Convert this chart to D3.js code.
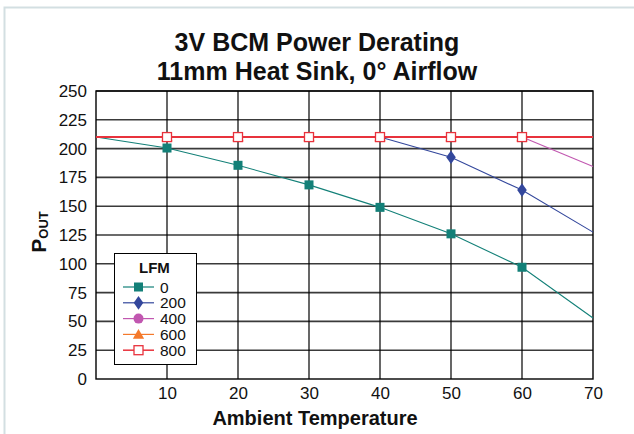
<!DOCTYPE html>
<html><head><meta charset="utf-8">
<script src="https://cdn.jsdelivr.net/npm/d3@7"></script>
<style>body{margin:0;background:#fff;}svg{display:block;font-family:"Liberation Sans",Arial,sans-serif;}</style>
</head><body>
<svg id="c" width="634" height="434"></svg>
<script>
const titleLines = ["3V BCM Power Derating", "11mm Heat Sink, 0° Airflow"];
const xTicks = [10, 20, 30, 40, 50, 60, 70];
const yTicks = [0, 25, 50, 75, 100, 125, 150, 175, 200, 225, 250];
const seriesNames = ["0", "200", "400", "600", "800"];
const seriesColors = ["#138078", "#33479c", "#c157b0", "#f4792b", "#e8323c"];
const lfm0X = [0, 10, 20, 30, 40, 50, 60, 70];
const lfm0Y = [210, 200.5, 185.5, 168.5, 149, 126, 97, 53];
const lfm200X = [40, 50, 60, 70];
const lfm200Y = [210, 192.5, 164, 127.5];
const lfm400X = [60, 70];
const lfm400Y = [210, 184.5];
const lfm600X = [0, 10, 20, 30, 40, 50, 60, 70];
const lfm600Y = [210, 210, 210, 210, 210, 210, 210, 210];
const lfm800X = [0, 10, 20, 30, 40, 50, 60, 70];
const lfm800Y = [210, 210, 210, 210, 210, 210, 210, 210];
const symbols = ["square", "diamond", "circle", "triangle", "squareOpen"];

const svg = d3.select("#c");
// outer frame
svg.append("path").attr("d", "M4.5,434 L4.5,7.5 L634,7.5").attr("fill", "none").attr("stroke", "#d3dfe2").attr("stroke-width", 2);

const x = d3.scaleLinear().domain([0, 70]).range([96, 593]);
const y = d3.scaleLinear().domain([0, 250]).range([379, 91]);

// title
svg.selectAll("text.title").data(titleLines).enter().append("text")
  .attr("x", 317).attr("y", (d, i) => 51 + i * 29).attr("text-anchor", "middle")
  .attr("font-weight", "bold").attr("font-size", 25).attr("fill", "#111").text(d => d);

// gridlines
const g = svg.append("g");
g.selectAll("line.h").data(yTicks.slice(1)).enter().append("line")
  .attr("x1", x(0)).attr("x2", x(70)).attr("y1", d => y(d)).attr("y2", d => y(d))
  .attr("stroke", "#3a3a3a").attr("stroke-width", 1.6);
g.selectAll("line.v").data(xTicks.slice(0, -1)).enter().append("line")
  .attr("y1", y(0)).attr("y2", y(250)).attr("x1", d => x(d)).attr("x2", d => x(d))
  .attr("stroke", "#000").attr("stroke-width", 1.2);
g.append("rect").attr("x", x(0)).attr("y", y(250)).attr("width", x(70) - x(0)).attr("height", y(0) - y(250))
  .attr("fill", "none").attr("stroke", "#000").attr("stroke-width", 1.4);

// axes
const xAxis = svg.append("g").attr("transform", `translate(0,${y(0)})`)
  .call(d3.axisBottom(x).tickValues(xTicks).tickSize(0).tickPadding(8));
xAxis.select(".domain").remove();
xAxis.selectAll("text").attr("font-size", 17).attr("fill", "#111").attr("font-family", "Liberation Sans, Arial, sans-serif");
const yAxis = svg.append("g").attr("transform", `translate(${x(0)},0)`)
  .call(d3.axisLeft(y).tickValues(yTicks).tickSize(0).tickPadding(9));
yAxis.select(".domain").remove();
yAxis.selectAll("text").attr("font-size", 17).attr("fill", "#111").attr("font-family", "Liberation Sans, Arial, sans-serif");

// axis labels
svg.append("text").attr("x", 315).attr("y", 425).attr("text-anchor", "middle")
  .attr("font-weight", "bold").attr("font-size", 20).attr("fill", "#111").text("Ambient Temperature");
const yl = svg.append("text").attr("transform", "translate(46,232) rotate(-90)")
  .attr("text-anchor", "middle").attr("font-weight", "bold").attr("fill", "#111");
yl.append("tspan").attr("font-size", 21).text("P");
yl.append("tspan").attr("font-size", 13).attr("dy", 2).text("OUT");

// series
const seriesX = [lfm0X, lfm200X, lfm400X, lfm600X, lfm800X];
const seriesY = [lfm0Y, lfm200Y, lfm400Y, lfm600Y, lfm800Y];
const line = d3.line().x(d => x(d[0])).y(d => y(d[1]));
function drawMarker(sel, kind, color, cx, cy) {
  if (kind === "square") {
    sel.append("rect").attr("x", cx - 4.5).attr("y", cy - 4.5).attr("width", 9).attr("height", 9).attr("fill", color);
  } else if (kind === "squareOpen") {
    sel.append("rect").attr("x", cx - 4.5).attr("y", cy - 4.5).attr("width", 9).attr("height", 9).attr("fill", "#fff").attr("stroke", color).attr("stroke-width", 1.3);
  } else if (kind === "diamond") {
    sel.append("path").attr("d", d3.symbol(d3.symbolDiamond, 60)()).attr("transform", `translate(${cx},${cy}) scale(1.15,0.95)`).attr("fill", color);
  } else if (kind === "circle") {
    sel.append("circle").attr("cx", cx).attr("cy", cy).attr("r", 5).attr("fill", color);
  } else if (kind === "triangle") {
    sel.append("path").attr("d", d3.symbol(d3.symbolTriangle, 55)()).attr("transform", `translate(${cx},${cy + 1})`).attr("fill", color);
  }
}
const order = [3, 2, 1, 0, 4];
order.forEach(i => {
  const pts = seriesX[i].map((v, k) => [v, seriesY[i][k]]);
  svg.append("path").attr("d", line(pts)).attr("fill", "none").attr("stroke", seriesColors[i])
    .attr("stroke-width", i === 4 ? 2 : 1.1);
});
order.forEach(i => {
  const mg = svg.append("g");
  seriesX[i].forEach((v, k) => {
    if (v > 0 && v < 70 && !(i === 1 && v === 40) && !(i === 2 && v === 60)) drawMarker(mg, symbols[i], seriesColors[i], x(v), y(seriesY[i][k]));
  });
});

// legend
const lg = svg.append("g");
lg.append("rect").attr("x", 114.5).attr("y", 253.5).attr("width", 82).attr("height", 111)
  .attr("fill", "#fff").attr("stroke", "#000").attr("stroke-width", 1);
lg.append("text").attr("x", 139).attr("y", 273).attr("font-weight", "bold").attr("font-size", 15).attr("fill", "#111").text("LFM");
seriesNames.forEach((n, i) => {
  const yy = 287 + i * 15.8;
  lg.append("line").attr("x1", 123).attr("x2", 154).attr("y1", yy).attr("y2", yy).attr("stroke", seriesColors[i]).attr("stroke-width", i === 4 ? 1.5 : 1.2);
  drawMarker(lg, symbols[i], seriesColors[i], 138.5, yy);
  lg.append("text").attr("x", 160).attr("y", yy + 5.5).attr("font-size", 15.5).attr("fill", "#111").text(n);
});
</script>
</body></html>
